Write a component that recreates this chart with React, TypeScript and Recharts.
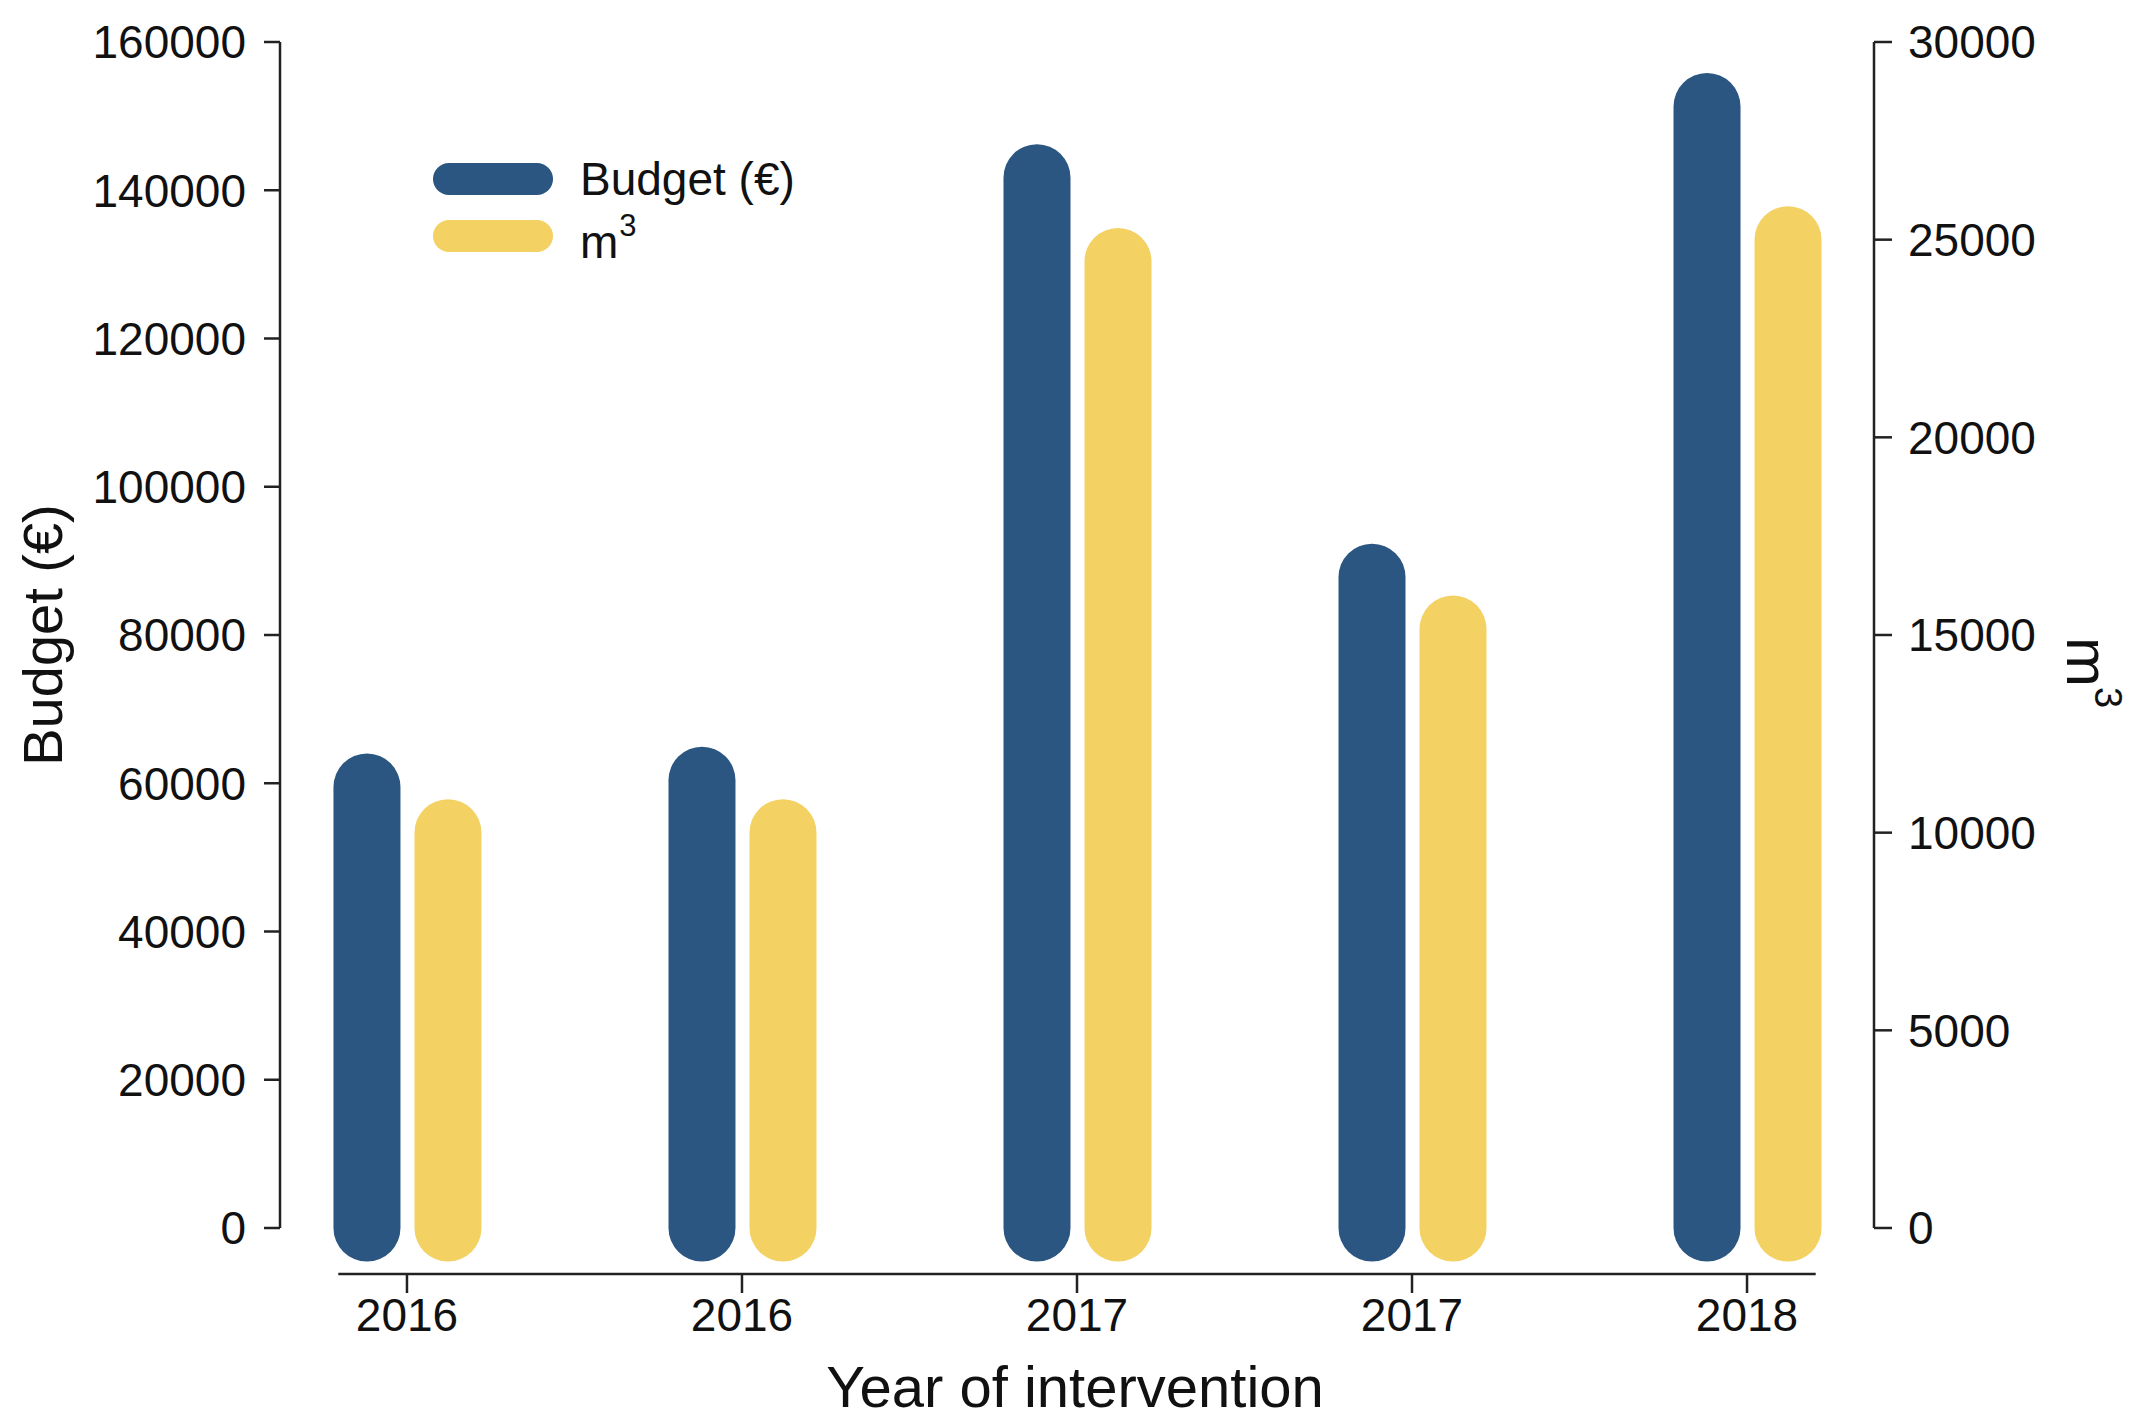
import React from 'react';
import {
  ComposedChart,
  Bar,
  XAxis,
  YAxis,
  Legend,
  ReferenceLine,
} from 'recharts';

// values
const YEARS = ['2016', '2016', '2017', '2017', '2018'];
const BUDGET = [59500, 60400, 141700, 87800, 151300];
const VOLUME = [10000, 10000, 24450, 15150, 25000];

const LEFT_TICKS = [0, 20000, 40000, 60000, 80000, 100000, 120000, 140000, 160000];
const RIGHT_TICKS = [0, 5000, 10000, 15000, 20000, 25000, 30000];
const X_TICKS = [0, 1, 2, 3, 4];

const SERIES = [
  { key: 'budget', name: 'Budget (€)', color: '#2b5681', axis: 'left' },
  { key: 'volume', name: 'm³', color: '#f3d163', axis: 'right' },
];

// offset-spine layout: axes sit a little away from the plotted data
const X_MIN = -0.379;
const X_MAX = 4.379;
const X_LINE = [-0.205, 4.205];
const LEFT_MIN = -6206;
const RIGHT_MIN = -1164;

const FONT = '"Liberation Sans", Arial, sans-serif';
const INK = '#111';

const data = YEARS.map((year, idx) => ({
  idx,
  year,
  budget: BUDGET[idx],
  volume: VOLUME[idx],
}));

// bar drawn as a thick stroke with round caps at 0 and at the value
const PillBar = (props: any) => {
  const { x, y, width, height, fill } = props;
  if (x == null || width == null) return null;
  const r = width / 2;
  const top = Math.min(y, y + height);
  const h = Math.abs(height);
  return <rect x={x} y={top - r} width={width} height={h + 2 * r} rx={r} ry={r} fill={fill} />;
};

const renderName = (name: string) =>
  name.endsWith('³') ? (
    <span style={{ position: 'relative', top: 6 }}>
      {name.slice(0, -1)}
      <span style={{ fontSize: 31, position: 'relative', top: -22, marginLeft: 1 }}>3</span>
    </span>
  ) : (
    name
  );

const LegendContent = ({ payload }: any) => (
  <div style={{ fontFamily: FONT, fontSize: 46, color: INK }}>
    {(payload || []).map((item: any) => (
      <div key={item.value} style={{ display: 'flex', alignItems: 'center', height: 57 }}>
        <span
          style={{
            display: 'inline-block',
            width: 120,
            height: 32,
            borderRadius: 16,
            background: item.color,
            marginRight: 27,
          }}
        />
        <span>{renderName(item.value)}</span>
      </div>
    ))}
  </div>
);

const axisLine = { stroke: '#222', strokeWidth: 2.5 };
const tickStyle = { fill: INK, fontSize: 46, fontFamily: FONT };

export default function App() {
  return (
    <div style={{ width: 2148, height: 1428, background: '#fff' }}>
      <style>{'body{margin:0;}'}</style>
      <ComposedChart
        width={2148}
        height={1428}
        data={data}
        margin={{ top: 42, right: 0, bottom: 0, left: 0 }}
        barGap={14}
      >
        <XAxis
          dataKey="idx"
          type="number"
          domain={[X_MIN, X_MAX]}
          ticks={X_TICKS}
          tickFormatter={(i) => YEARS[i] ?? ''}
          height={154}
          axisLine={false}
          tickLine={axisLine}
          tickSize={19}
          tickMargin={5}
          tick={tickStyle}
          label={{
            content: () => (
              <text x={1075} y={1407} textAnchor="middle" fontSize={58} fontFamily={FONT} fill={INK}>
                Year of intervention
              </text>
            ),
          }}
        />
        <YAxis
          yAxisId="left"
          orientation="left"
          width={280}
          domain={[LEFT_MIN, 160000]}
          ticks={LEFT_TICKS}
          axisLine={false}
          tickLine={axisLine}
          tickSize={16}
          tickMargin={18}
          tick={tickStyle}
          label={{
            content: () => (
              <text
                x={62}
                y={635}
                transform="rotate(-90 62 635)"
                textAnchor="middle"
                fontSize={56}
                fontFamily={FONT}
                fill={INK}
              >
                Budget (€)
              </text>
            ),
          }}
        />
        <YAxis
          yAxisId="right"
          orientation="right"
          width={274}
          domain={[RIGHT_MIN, 30000]}
          ticks={RIGHT_TICKS}
          axisLine={false}
          tickLine={axisLine}
          tickSize={18}
          tickMargin={16}
          tick={tickStyle}
          label={{
            content: () => (
              <text
                x={2067}
                y={637}
                transform="rotate(90 2067 637)"
                textAnchor="start"
                fontSize={60}
                fontFamily={FONT}
                fill={INK}
              >
                m
                <tspan fontSize={38} dy={-28}>
                  3
                </tspan>
              </text>
            ),
          }}
        />
        <ReferenceLine
          yAxisId="left"
          segment={[{ x: X_MIN, y: 0 }, { x: X_MIN, y: 160000 }]}
          stroke="#222"
          strokeWidth={2.5}
          ifOverflow="visible"
        />
        <ReferenceLine
          yAxisId="right"
          segment={[{ x: X_MAX, y: 0 }, { x: X_MAX, y: 30000 }]}
          stroke="#222"
          strokeWidth={2.5}
          ifOverflow="visible"
        />
        <ReferenceLine
          yAxisId="left"
          segment={[{ x: X_LINE[0], y: LEFT_MIN }, { x: X_LINE[1], y: LEFT_MIN }]}
          stroke="#222"
          strokeWidth={2.5}
          ifOverflow="visible"
        />
        <Legend
          layout="vertical"
          align="center"
          verticalAlign="middle"
          content={<LegendContent />}
          wrapperStyle={{ left: 433, top: 150, width: 'auto' }}
        />
        {SERIES.map((s) => (
          <Bar
            key={s.key}
            dataKey={s.key}
            name={s.name}
            yAxisId={s.axis}
            fill={s.color}
            barSize={67}
            shape={<PillBar />}
            isAnimationActive={false}
          />
        ))}
      </ComposedChart>
    </div>
  );
}
